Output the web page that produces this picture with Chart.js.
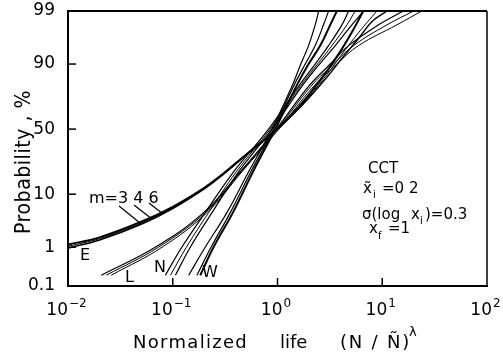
<!DOCTYPE html>
<html>
<head>
<meta charset="utf-8">
<script src="https://cdn.jsdelivr.net/npm/chart.js@4.4.0/dist/chart.umd.min.js"></script>
<style>
  html, body { margin: 0; padding: 0; background: #fff; }
</style>
</head>
<body>
<canvas id="c" width="503" height="355"></canvas>
<script>
// probability levels (%) used by the L, N and W curves
const pLevels = [0.2, 1, 5, 20, 50, 80, 90, 95, 98, 99];

// normalized life at each probability level (m = 3, 4, 6)
const lifeL3 = [0.0208, 0.068, 0.197, 0.441, 0.973, 1.98, 3.19, 4.77, 9.21, 15.9];
const lifeL4 = [0.0232, 0.073, 0.204, 0.448, 1.0, 2.08, 3.43, 5.32, 11.1, 19.9];
const lifeL6 = [0.0259, 0.079, 0.212, 0.457, 1.03, 2.21, 3.69, 5.94, 13.8, 23.9];

const lifeN3 = [0.085, 0.122, 0.204, 0.381, 0.822, 1.59, 2.29, 3.07, 4.12, 4.77];
const lifeN4 = [0.095, 0.135, 0.22, 0.404, 0.853, 1.65, 2.41, 3.31, 4.6, 5.52];
const lifeN6 = [0.106, 0.147, 0.237, 0.425, 0.884, 1.71, 2.52, 3.56, 5.13, 6.63];

const lifeW3 = [0.142, 0.204, 0.329, 0.53, 0.884, 1.37, 1.67, 1.98, 2.29, 2.47];
const lifeW4 = [0.170, 0.232, 0.354, 0.557, 0.917, 1.42, 1.84, 2.29, 2.75, 3.07];
const lifeW6 = [0.183, 0.245, 0.375, 0.583, 0.952, 1.51, 1.98, 2.56, 3.19, 3.69];

// E curves start at the left edge, so they have their own points
const lifeE3 = [0.01, 0.02, 0.05, 0.1, 0.2, 0.3, 0.5, 0.7, 1.0, 1.5, 2, 3, 4, 5, 6.6];
const probE3 = [1.15, 1.65, 3.4, 6.3, 12.4, 18.8, 30.7, 39.7, 50.3, 64.8, 75.2, 87.6, 93.8, 96.9, 99];
const lifeE4 = [0.01, 0.02, 0.05, 0.1, 0.2, 0.3, 0.5, 0.7, 1.0, 1.5, 2, 3, 4, 6, 8.9];
const probE4 = [1.05, 1.55, 3.2, 6.1, 12.2, 18.6, 30.5, 39.5, 50, 64.2, 74.2, 86.2, 92.5, 97.2, 99];
const lifeE6 = [0.01, 0.02, 0.05, 0.1, 0.2, 0.3, 0.5, 0.7, 1.0, 1.5, 2, 3, 4, 6, 8, 11.1];
const probE6 = [0.95, 1.45, 3.05, 5.9, 12.0, 18.4, 30.3, 39.3, 49.8, 63.6, 73.2, 85, 91.3, 96.4, 98.3, 99];

// axis ticks
const yTickPct = [0.1, 1, 10, 50, 90, 99];
const yTickLabels = ['0.1', '1', '10', '50', '90', '99'];
const xTickVals = [0.01, 0.1, 1, 10, 100];
const xTickExp = ['\u22122', '\u22121', '0', '1', '2'];

const FONT = 'DejaVu Sans';

// inverse normal CDF (probability paper scale)
function probit(p) {
  const a = [-3.969683028665376e+01, 2.209460984245205e+02, -2.759285104469687e+02, 1.383577518672690e+02, -3.066479806614716e+01, 2.506628277459239e+00];
  const b = [-5.447609879822406e+01, 1.615858368580409e+02, -1.556989798598866e+02, 6.680131188771972e+01, -1.328068155288572e+01];
  const c = [-7.784894002430293e-03, -3.223964580411365e-01, -2.400758277161838e+00, -2.549732539343734e+00, 4.374664141464968e+00, 2.938163982698783e+00];
  const d = [7.784695709041462e-03, 3.224671290700398e-01, 2.445134137142996e+00, 3.754408661907416e+00];
  const pl = 0.02425;
  let q, r;
  if (p < pl) {
    q = Math.sqrt(-2 * Math.log(p));
    return (((((c[0]*q+c[1])*q+c[2])*q+c[3])*q+c[4])*q+c[5]) / ((((d[0]*q+d[1])*q+d[2])*q+d[3])*q+1);
  }
  if (p > 1 - pl) {
    q = Math.sqrt(-2 * Math.log(1 - p));
    return -(((((c[0]*q+c[1])*q+c[2])*q+c[3])*q+c[4])*q+c[5]) / ((((d[0]*q+d[1])*q+d[2])*q+d[3])*q+1);
  }
  q = p - 0.5; r = q * q;
  return (((((a[0]*r+a[1])*r+a[2])*r+a[3])*r+a[4])*r+a[5])*q / (((((b[0]*r+b[1])*r+b[2])*r+b[3])*r+b[4])*r+1);
}

function curve(life, pct, width) {
  return {
    data: life.map((x, i) => ({ x: x, y: probit(pct[i] / 100) })),
    borderColor: '#000',
    borderWidth: width,
    pointRadius: 0,
    fill: false,
    tension: 0.4
  };
}

// texts, lines and frame pieces that Chart.js does not draw itself
const extras = {
  id: 'extras',
  afterDraw(chart) {
    const ctx = chart.ctx;
    const ca = chart.chartArea;
    const xs = chart.scales.x;
    const ys = chart.scales.y;
    ctx.save();
    ctx.strokeStyle = '#000';
    ctx.fillStyle = '#000';

    // top and right frame
    ctx.lineWidth = 2;
    ctx.beginPath();
    ctx.moveTo(ca.left, ca.top);
    ctx.lineTo(ca.right, ca.top);
    ctx.stroke();
    ctx.lineWidth = 1.5;
    ctx.beginPath();
    ctx.moveTo(ca.right, ca.top);
    ctx.lineTo(ca.right, ca.bottom);
    ctx.stroke();

    // inward tick marks
    ctx.lineWidth = 1.5;
    [90, 50, 10, 1].forEach(p => {
      const py = ys.getPixelForValue(probit(p / 100));
      ctx.beginPath();
      ctx.moveTo(ca.left, py);
      ctx.lineTo(ca.left + 8, py);
      ctx.stroke();
    });
    [0.1, 1, 10].forEach(v => {
      const px = xs.getPixelForValue(v);
      ctx.beginPath();
      ctx.moveTo(px, ca.bottom);
      ctx.lineTo(px, ca.bottom - 8);
      ctx.stroke();
    });

    // x tick labels 10^n
    ctx.textBaseline = 'alphabetic';
    ctx.textAlign = 'left';
    xTickVals.forEach((v, i) => {
      const px = xs.getPixelForValue(v);
      ctx.font = '17px "' + FONT + '"';
      const wb = ctx.measureText('10').width;
      ctx.font = '12px "' + FONT + '"';
      const we = ctx.measureText(xTickExp[i]).width;
      const x0 = px - 2 - (wb + we) / 2;
      ctx.font = '17px "' + FONT + '"';
      ctx.fillText('10', x0, ca.bottom + 29);
      ctx.font = '12px "' + FONT + '"';
      ctx.fillText(xTickExp[i], x0 + wb + 1, ca.bottom + 21);
    });

    // axis titles
    ctx.font = '18px "' + FONT + '"';
    ctx.letterSpacing = '1.3px';
    ctx.fillText('Normalized', 133, 348);
    ctx.letterSpacing = '0px';
    ctx.fillText('life', 280, 348);
    ctx.letterSpacing = '1.8px';
    ctx.fillText('(N / \u00d1)', 340, 348);
    ctx.letterSpacing = '0px';
    ctx.font = '13px "' + FONT + '"';
    ctx.fillText('\u03bb', 409, 336);

    ctx.save();
    ctx.translate(25, 162);
    ctx.rotate(-Math.PI / 2);
    ctx.scale(0.9, 1);
    ctx.textAlign = 'center';
    ctx.textBaseline = 'middle';
    ctx.font = '21px "' + FONT + '"';
    ctx.letterSpacing = '0.6px';
    ctx.fillText('Probability , %', 0, 0);
    ctx.restore();
    ctx.letterSpacing = '0px';

    // parameter block
    ctx.font = '15px "' + FONT + '"';
    ctx.fillText('CCT', 368, 173);
    ctx.fillText('x\u0303', 363, 193);
    ctx.fillText('=0 2', 382, 193);
    ctx.fillText('\u03c3(log', 362, 219);
    ctx.fillText('x', 411, 219);
    ctx.fillText(')=0.3', 425, 219);
    ctx.fillText('x', 369, 233);
    ctx.fillText('=1', 388, 233);
    ctx.font = '10px "' + FONT + '"';
    ctx.fillText('i', 373, 198);
    ctx.fillText('i', 420, 224);
    ctx.fillText('f', 378, 239);

    // curve labels
    ctx.font = '16px "' + FONT + '"';
    ctx.fillText('m=3 4 6', 89, 203);
    ctx.fillText('E', 80, 260);
    ctx.fillText('L', 125, 282);
    ctx.fillText('N', 154, 272);
    ctx.fillText('W', 202, 277);

    // leaders from m labels to the E curves
    ctx.lineWidth = 1.2;
    [[119, 206, 140, 223], [134, 205, 152, 219], [149, 203, 163, 214]].forEach(s => {
      ctx.beginPath();
      ctx.moveTo(s[0], s[1]);
      ctx.lineTo(s[2], s[3]);
      ctx.stroke();
    });
    ctx.restore();
  }
};

new Chart(document.getElementById('c'), {
  type: 'line',
  data: {
    datasets: [
      curve(lifeE3, probE3, 2),
      curve(lifeE4, probE4, 1),
      curve(lifeE6, probE6, 1.5),
      curve(lifeL3, pLevels, 1.2),
      curve(lifeL4, pLevels, 1),
      curve(lifeL6, pLevels, 1),
      curve(lifeN3, pLevels, 1.2),
      curve(lifeN4, pLevels, 1),
      curve(lifeN6, pLevels, 1.2),
      curve(lifeW3, pLevels, 1.2),
      curve(lifeW4, pLevels, 1.2),
      curve(lifeW6, pLevels, 2)
    ]
  },
  options: {
    responsive: false,
    animation: false,
    devicePixelRatio: 1,
    layout: { padding: { top: 11, right: 16, left: 0, bottom: 0 } },
    plugins: { legend: { display: false }, tooltip: { enabled: false } },
    scales: {
      x: {
        type: 'logarithmic',
        min: xTickVals[0],
        max: xTickVals[xTickVals.length - 1],
        afterBuildTicks: s => { s.ticks = xTickVals.map(v => ({ value: v })); },
        afterFit: s => { s.height = 69; s.paddingLeft = 0; s.paddingRight = 0; },
        ticks: { display: false },
        grid: { display: false },
        border: { display: true, color: '#000', width: 2 }
      },
      y: {
        type: 'linear',
        min: probit(yTickPct[0] / 100),
        max: probit(yTickPct[yTickPct.length - 1] / 100),
        afterBuildTicks: s => { s.ticks = yTickPct.map(p => ({ value: probit(p / 100) })); },
        afterFit: s => { s.width = 68; s.paddingTop = 0; s.paddingBottom = 0; },
        ticks: {
          autoSkip: false,
          padding: 5,
          color: '#000',
          font: { family: FONT, size: 17 },
          callback: (v, i) => yTickLabels[i]
        },
        grid: { display: false },
        border: { display: true, color: '#000', width: 2 }
      }
    }
  },
  plugins: [extras]
});
</script>
</body>
</html>
